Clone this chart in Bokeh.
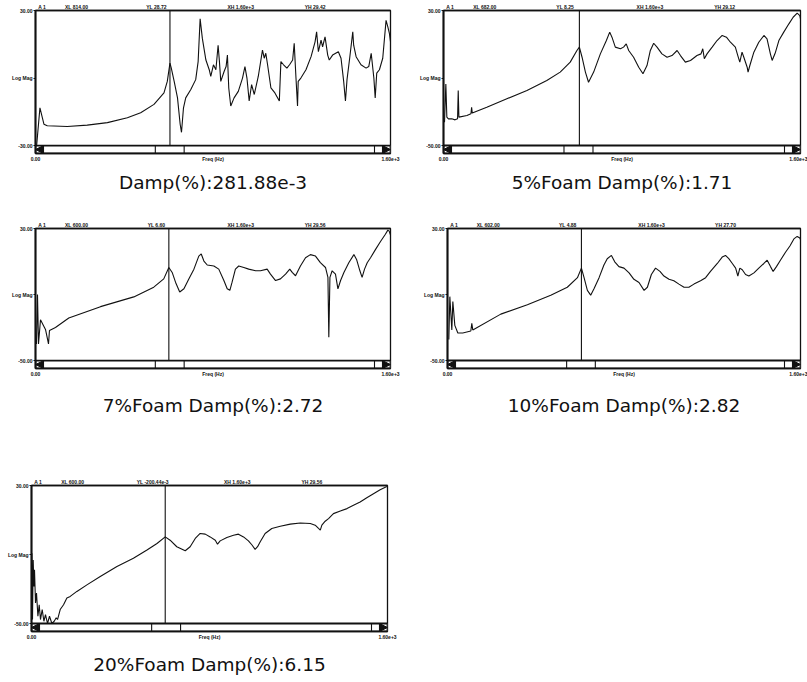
from bokeh.plotting import figure
from bokeh.models import Range1d, FixedTicker, LinearAxis
from bokeh.layouts import column, row
from bokeh.embed import file_html
from bokeh.resources import INLINE

# ---------------- data (Hz, dB) ----------------
freq_base = [5, 20, 38, 53, 143, 233, 324, 414, 474, 534, 579, 594, 606, 612, 625, 640, 652, 658, 667, 677,
             700, 722, 733, 742, 752, 768, 783, 790, 802, 813, 823, 829, 835, 850, 859, 865, 871, 880, 895, 914,
             933, 944, 953, 963, 974, 986, 1004, 1023, 1031, 1038, 1046, 1061, 1079, 1099, 1106, 1118, 1133, 1145,
             1159, 1166, 1174, 1181, 1184, 1196, 1219, 1242, 1260, 1267, 1275, 1287, 1294, 1305, 1317, 1324, 1339,
             1365, 1377, 1389, 1397, 1404, 1415, 1430, 1434, 1445, 1467, 1490, 1502, 1513, 1525, 1531, 1538, 1550,
             1565, 1580, 1588, 1595, 1600]
mag_base = [-30, -13.2, -20.5, -21.2, -21.5, -20.9, -19.8, -17.6, -15.4, -11.7, -6.6, -1.5, 6.6, 4.4, -1.5,
            -8.8, -20.5, -24.1, -13.2, -8.8, -5.1, -0.7, 7.3, 26.3, 17.6, 8.0, 3.7, 0.7, 5.9, 3.7, 14.6, 7.3,
            -1.5, 2.9, 5.1, 10.2, -4.4, -12.4, -8.8, -5.9, 0.0, 5.1, 0.0, -10.2, -2.9, -7.3, 0.7, 12.4, 8.8,
            11.0, 5.9, -4.4, -6.6, -10.2, 7.3, 5.9, 4.4, 5.9, 8.0, 15.4, 0.0, -12.4, -1.5, 0.0, 3.7, 9.5, 16.1,
            20.5, 11.7, 16.8, 13.9, 18.3, 10.2, 8.0, 10.2, 11.7, 8.8, -1.5, -10.2, -0.7, 8.0, 20.5, 14.6, 9.5,
            5.9, 4.4, 5.1, 11.0, 0.0, -8.8, 2.2, 3.7, 8.8, 25.6, 22.7, 19.8, 16.1]

freq_5 = [4.5, 10.5, 15, 22, 37, 52, 63, 66, 69, 105, 123, 126, 129, 194, 284, 374, 463, 523, 568, 598, 609,
          621, 636, 650, 673, 703, 730, 745, 755, 770, 793, 807, 819, 830, 852, 875, 894, 912, 927, 942, 957,
          979, 1002, 1024, 1047, 1062, 1084, 1107, 1136, 1154, 1162, 1169, 1181, 1204, 1226, 1249, 1268, 1286,
          1308, 1319, 1328, 1338, 1346, 1361, 1365, 1373, 1391, 1413, 1436, 1450, 1465, 1473, 1488, 1503, 1525,
          1548, 1567, 1585, 1597, 1600]
mag_5 = [-36.2, -13.5, -33.2, -34.2, -34.2, -34.8, -34.2, -17.4, -33.2, -32.2, -31.2, -27.3, -30.8, -27.3,
         -22.3, -17.4, -11.5, -6.5, -0.6, 6.3, 8.3, 2.3, -6.5, -12.5, -6.5, 4.3, 12.2, 17.2, 14.2, 8.3, 7.3, 8.3,
         10.2, 6.3, 2.3, -3.6, -7.5, -2.6, 6.3, 10.6, 8.3, 4.3, 2.3, 3.3, 6.3, 3.3, -0.6, 0.4, 3.3, 4.3, 7.3,
         1.4, 4.3, 8.3, 12.2, 15.2, 14.2, 11.2, 8.3, 3.3, -0.6, 5.3, 2.3, -3.6, -6.5, -2.6, 5.3, 11.2, 15.2,
         13.2, 4.3, 0.4, 5.3, 12.2, 17.2, 22.1, 26.0, 28.4, 27.0, 25.1]

freq_7 = [4.5, 9, 13.5, 22.5, 45, 58.6, 63, 90, 150, 293, 443, 533, 578, 601, 616, 631, 650, 669, 691, 714,
          736, 747, 759, 774, 804, 826, 849, 864, 876, 886, 901, 916, 939, 961, 992, 1014, 1044, 1059, 1082,
          1104, 1127, 1146, 1157, 1172, 1194, 1217, 1239, 1262, 1284, 1307, 1318, 1322, 1327, 1337, 1352, 1363,
          1375, 1390, 1412, 1435, 1447, 1462, 1472, 1483, 1495, 1510, 1532, 1555, 1577, 1588, 1594, 1600]
mag_7 = [-39.9, -10, -39.9, -25.2, -31.1, -39.9, -31.7, -29.9, -24.2, -17.3, -11.4, -5.5, -0.5, 6.4, 3.4,
         -2.5, -8.4, -6.5, -0.5, 5.4, 13.3, 14.6, 10.3, 7.9, 7.3, 5.4, -1.5, -6.5, -7.4, -2.5, 5.4, 7.3, 6.4,
         5.4, 4.4, 4.4, 5.4, 2.4, -1.5, -0.5, 2.4, 5.4, 3.4, 1.4, 7.3, 12.3, 14.2, 13.3, 9.3, 6.4, 0.4, -35.8,
         0.4, 4.4, 2.4, -6.5, -1.5, 3.4, 9.3, 14.2, 11.3, 4.4, 0.4, 5.4, 9.3, 12.3, 17.2, 22.1, 26.5, 29.0,
         28.4, 26.1]

freq_10 = [6, 10.6, 19.6, 24.2, 33.2, 46.8, 69.4, 105.7, 110.2, 114.7, 241.5, 362, 468, 543, 589, 607, 619,
           634, 649, 664, 687, 709, 724, 743, 758, 777, 800, 823, 845, 868, 891, 906, 924, 943, 963, 981, 1004,
           1026, 1049, 1072, 1094, 1117, 1147, 1170, 1192, 1223, 1245, 1260, 1275, 1291, 1306, 1316, 1325,
           1336, 1351, 1366, 1389, 1411, 1434, 1449, 1464, 1476, 1491, 1509, 1532, 1552, 1570, 1585, 1597, 1600]
mag_10 = [-37.3, -11.3, -31.5, -14.2, -28.7, -33.3, -33.3, -32.1, -27.5, -31.5, -21.9, -16.2, -10.4, -5.6,
          0.2, 6.0, 0.2, -7.5, -10.4, -6.5, 0.2, 7.9, 11.7, 13.7, 9.8, 6.9, 6.0, 3.1, -0.8, -2.7, -7.5, -5.6,
          2.1, 6.0, 4.0, 1.2, -0.8, -1.7, -3.7, -5.6, -5.6, -3.7, -1.7, 0.2, 4.0, 8.8, 12.7, 13.7, 11.7, 8.8,
          6.0, 1.2, 6.0, 5.0, 2.1, 1.2, 3.1, 6.0, 8.8, 10.8, 6.9, 4.0, 6.9, 10.8, 15.6, 19.4, 23.7, 25.2, 24.2,
          23.3]

freq_20 = [1.8, 4.5, 7.6, 10.8, 13.5, 18, 22.5, 28.8, 34.6, 40.4, 48.1, 55.7, 62.9, 71.9, 80.9, 91.7, 102,
           111, 117, 129, 144, 159, 174, 204, 249, 309, 384, 458, 519, 564, 601, 623, 653, 691, 713, 736, 758,
           781, 803, 826, 836, 848, 878, 908, 930, 953, 975, 991, 1005, 1016, 1028, 1050, 1080, 1118, 1163,
           1208, 1253, 1275, 1290, 1298, 1305, 1320, 1335, 1357, 1388, 1418, 1447, 1477, 1507, 1537, 1567, 1597]
mag_20 = [-9.3, -47.7, -13.2, -28.5, -18.9, -38.1, -32.3, -45.8, -39.1, -47.7, -41.9, -48.7, -44.8, -50,
          -45.8, -50, -48.7, -46.7, -47.7, -41.9, -39.1, -35.2, -34.3, -31.4, -27.6, -22.8, -17.0, -12.2, -7.4,
          -3.6, 0.2, -1.7, -5.5, -7.8, -5.5, -0.7, 2.2, 1.8, 0.2, -1.7, -4.0, -2.1, -0.1, 1.2, 1.8, 0.2, -2.1,
          -4.5, -7.0, -5.5, -2.6, 2.2, 5.1, 6.4, 7.6, 8.3, 8.0, 7.0, 5.1, 4.1, 7.0, 9.3, 10.8, 13.7, 15.2, 16.6,
          18.5, 20.4, 22.9, 25.2, 27.5, 29.4]

captions = ["Damp(%):281.88e-3", "5%Foam Damp(%):1.71", "7%Foam Damp(%):2.72",
            "10%Foam Damp(%):2.82", "20%Foam Damp(%):6.15"]
y_top = [30, 30, 30, 30, 30]
y_low = [-30, -50, -50, -50, -50]
cursor_hz = [606, 609, 601, 607, 601]
thumb_hz = [540, 670]
headers = [
    ["A 1", "XL 814.00", "YL 28.72", "XH 1.60e+3", "YH 29.42"],
    ["A 1", "XL 682.00", "YL 8.25", "XH 1.60e+3", "YH 29.12"],
    ["A 1", "XL 600.00", "YL 6.60", "XH 1.60e+3", "YH 29.56"],
    ["A 1", "XL 602.00", "YL 4.88", "XH 1.60e+3", "YH 27.70"],
    ["A 1", "XL 600.00", "YL -200.44e-3", "XH 1.60e+3", "YH 29.56"],
]
header_hz = [30, 185, 545, 925, 1260]
x_ticks = [0, 800, 1600]
x_tick_labels = ["0.00", "Freq (Hz)", "1.60e+3"]

INK = "#111111"


def panel(freq, mag, ylo, yhi, cursor, header, caption, w, h, bl, br, bt, bb, cap_standoff):
    fh = h - bt - bb
    fw = w - bl - br
    sbh = 8 * (yhi - ylo) / (fh - 8)
    p = figure(width=w, height=h, output_backend="svg", toolbar_location=None,
               x_range=Range1d(0, 1600), y_range=Range1d(ylo - sbh, yhi),
               min_border_left=bl, min_border_right=br, min_border_top=bt, min_border_bottom=bb,
               x_axis_location=None, y_axis_location=None)
    p.xgrid.visible = False
    p.ygrid.visible = False
    p.outline_line_color = INK
    p.outline_line_width = 1.3
    p.background_fill_color = "white"
    p.border_fill_color = "white"

    mid = (ylo + yhi) / 2
    yax = LinearAxis(ticker=FixedTicker(ticks=[ylo, mid, yhi]),
                     major_label_overrides={ylo: f"{ylo:.2f}", mid: "Log Mag", yhi: f"{yhi:.2f}"})
    xax = LinearAxis(ticker=FixedTicker(ticks=x_ticks),
                     major_label_overrides=dict(zip(x_ticks, x_tick_labels)))
    tax = LinearAxis(ticker=FixedTicker(ticks=header_hz),
                     major_label_overrides=dict(zip(header_hz, header)))
    for ax in (yax, xax, tax):
        ax.major_label_text_font = "Liberation Sans"
        ax.major_label_text_font_size = "5px"
        ax.major_label_text_font_style = "bold"
        ax.major_label_text_color = INK
        ax.axis_line_color = INK
        ax.minor_tick_line_color = None
    yax.axis_line_width = 2
    yax.major_tick_out = 2
    yax.major_tick_in = 0
    yax.major_tick_line_color = INK
    yax.major_label_standoff = 1
    xax.major_tick_line_color = None
    xax.major_tick_out = 0
    xax.major_tick_in = 0
    xax.major_label_standoff = 2
    xax.axis_line_width = 1.6
    xax.axis_label = caption
    xax.axis_label_text_font = "DejaVu Sans"
    xax.axis_label_text_font_size = "18.5px"
    xax.axis_label_text_font_style = "normal"
    xax.axis_label_text_color = INK
    xax.axis_label_standoff = cap_standoff
    tax.major_tick_line_color = None
    tax.major_tick_out = 0
    tax.major_tick_in = 0
    tax.major_label_standoff = 1
    tax.axis_line_width = 1.3
    p.add_layout(yax, "left")
    p.add_layout(xax, "below")
    p.add_layout(tax, "above")

    # response curve and cursor
    p.line(freq, mag, line_color=INK, line_width=1.1)
    p.segment(x0=[cursor], y0=[ylo], x1=[cursor], y1=[yhi], line_color=INK, line_width=1.1)

    # scroll bar under the plot area
    y0, y1 = ylo - sbh, ylo
    aw = 8 * 1600 / fw
    p.quad(left=[0], right=[1600], bottom=[y0], top=[y1], fill_color="white",
           line_color=INK, line_width=1.8)
    divs = [aw, thumb_hz[0], thumb_hz[1], 1600 - 2 * aw, 1600 - aw]
    p.segment(x0=divs, y0=[y0] * 5, x1=divs, y1=[y1] * 5, line_color=INK, line_width=1.1)
    ym = (y0 + y1) / 2
    p.patches(xs=[[aw, aw, 0], [1600 - aw, 1600 - aw, 1600]],
              ys=[[y1, y0, ym], [y1, y0, ym]], fill_color=INK, line_color=INK)
    return p


p1 = panel(freq_base, mag_base, y_low[0], y_top[0], cursor_hz[0], headers[0], captions[0],
           405, 200, 35, 15, 8, 47, 7)
p2 = panel(freq_5, mag_5, y_low[1], y_top[1], cursor_hz[1], headers[1], captions[1],
           402, 200, 38, 7, 10, 47, 7)
p3 = panel(freq_7, mag_7, y_low[2], y_top[2], cursor_hz[2], headers[2], captions[2],
           405, 230, 35, 15, 27, 60, 15)
p4 = panel(freq_10, mag_10, y_low[3], y_top[3], cursor_hz[3], headers[3], captions[3],
           402, 230, 42, 7, 28, 62, 15)
p5 = panel(freq_20, mag_20, y_low[4], y_top[4], cursor_hz[4], headers[4], captions[4],
           405, 252, 31, 18, 55, 51, 11)

layout = column(row(p1, p2), row(p3, p4), p5)
open("out.html", "w").write(file_html(layout, INLINE))
